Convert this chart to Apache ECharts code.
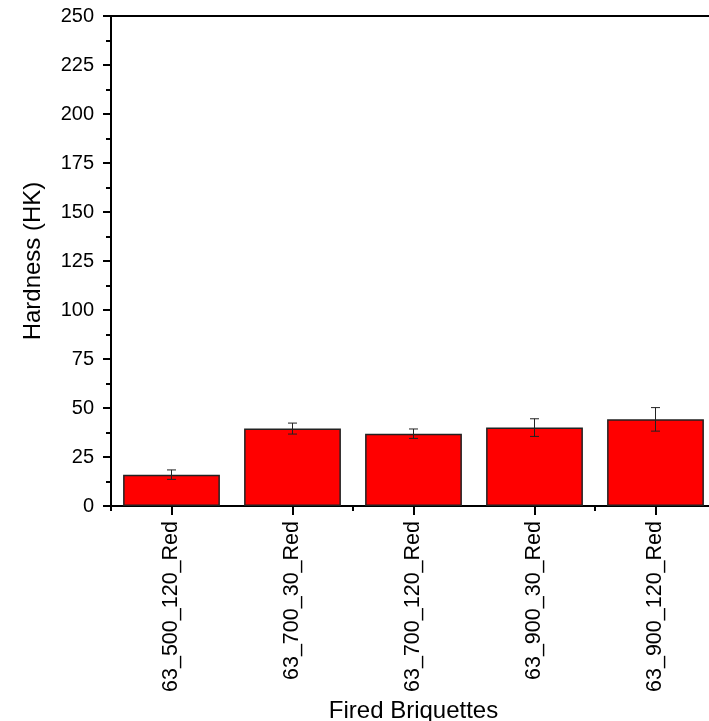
<!DOCTYPE html>
<html>
<head>
<meta charset="utf-8">
<script src="https://cdn.jsdelivr.net/npm/echarts@6/dist/echarts.min.js"></script>
<style>
  html, body { margin: 0; padding: 0; background: #fff; }
  #chart { width: 709px; height: 721px; }
</style>
</head>
<body>
<div id="chart"></div>
<script>
// Fired briquette samples and their measured Knoop hardness
const categories = ['63_500_120_Red', '63_700_30_Red', '63_700_120_Red', '63_900_30_Red', '63_900_120_Red'];
const hardness = [16.0, 39.5, 36.9, 40.0, 44.2];
const hardnessErr = [2.4, 2.8, 2.4, 4.5, 6.0];
const yTicks = [0, 25, 50, 75, 100, 125, 150, 175, 200, 225, 250];

const font = 'Liberation Sans, Arial, sans-serif';
const chart = echarts.init(document.getElementById('chart'));

chart.setOption({
  animation: false,
  backgroundColor: '#fff',
  grid: {
    left: 111, top: 16, width: 605, height: 490,
    containLabel: false,
    outerBoundsMode: 'none',
    show: true, borderColor: '#000', borderWidth: 2, backgroundColor: 'transparent'
  },
  xAxis: [
    {
      type: 'category',
      data: categories,
      position: 'bottom',
      name: 'Fired Briquettes',
      nameLocation: 'middle',
      nameGap: 185,
      nameTextStyle: { fontFamily: font, fontSize: 24, color: '#000' },
      axisLine: { show: true, lineStyle: { color: '#000', width: 2 } },
      axisTick: { show: true, alignWithLabel: true, length: 9, lineStyle: { color: '#000', width: 2 } },
      axisLabel: { rotate: 90, margin: 15, fontFamily: font, fontSize: 21.5, color: '#000' },
      splitLine: { show: false }
    },
    {
      // short ticks on the category boundaries
      type: 'category',
      data: categories,
      position: 'bottom',
      axisLine: { show: false },
      axisTick: { show: true, alignWithLabel: false, length: 5, lineStyle: { color: '#000', width: 2 } },
      axisLabel: { show: false },
      splitLine: { show: false }
    }
  ],
  yAxis: {
    type: 'value',
    min: yTicks[0],
    max: yTicks[yTicks.length - 1],
    interval: 25,
    name: 'Hardness (HK)',
    nameLocation: 'middle',
    nameGap: 66,
    nameTextStyle: { fontFamily: font, fontSize: 24, color: '#000' },
    axisLine: { show: true, lineStyle: { color: '#000', width: 2 } },
    axisTick: { show: true, length: 8, lineStyle: { color: '#000', width: 2 } },
    minorTick: { show: true, splitNumber: 2, length: 5, lineStyle: { color: '#000', width: 2 } },
    axisLabel: { margin: 17, fontFamily: font, fontSize: 20, color: '#000' },
    splitLine: { show: false }
  },
  series: [
    {
      type: 'bar',
      xAxisIndex: 0,
      data: hardness,
      barWidth: '80%',
      itemStyle: { color: '#ff0000', borderColor: '#222', borderWidth: 1.5 }
    },
    {
      type: 'custom',
      xAxisIndex: 0,
      data: hardness.map((v, i) => [i, v - hardnessErr[i], v + hardnessErr[i]]),
      renderItem: function (params, api) {
        const lo = api.coord([api.value(0), api.value(1)]);
        const hi = api.coord([api.value(0), api.value(2)]);
        const half = 4.5;
        const style = { stroke: '#222', lineWidth: 1 };
        return {
          type: 'group',
          children: [
            { type: 'line', shape: { x1: lo[0], y1: lo[1], x2: hi[0], y2: hi[1] }, style: style },
            { type: 'line', shape: { x1: lo[0] - half, y1: lo[1], x2: lo[0] + half, y2: lo[1] }, style: style },
            { type: 'line', shape: { x1: hi[0] - half, y1: hi[1], x2: hi[0] + half, y2: hi[1] }, style: style }
          ]
        };
      },
      z: 10
    }
  ]
});
</script>
</body>
</html>
